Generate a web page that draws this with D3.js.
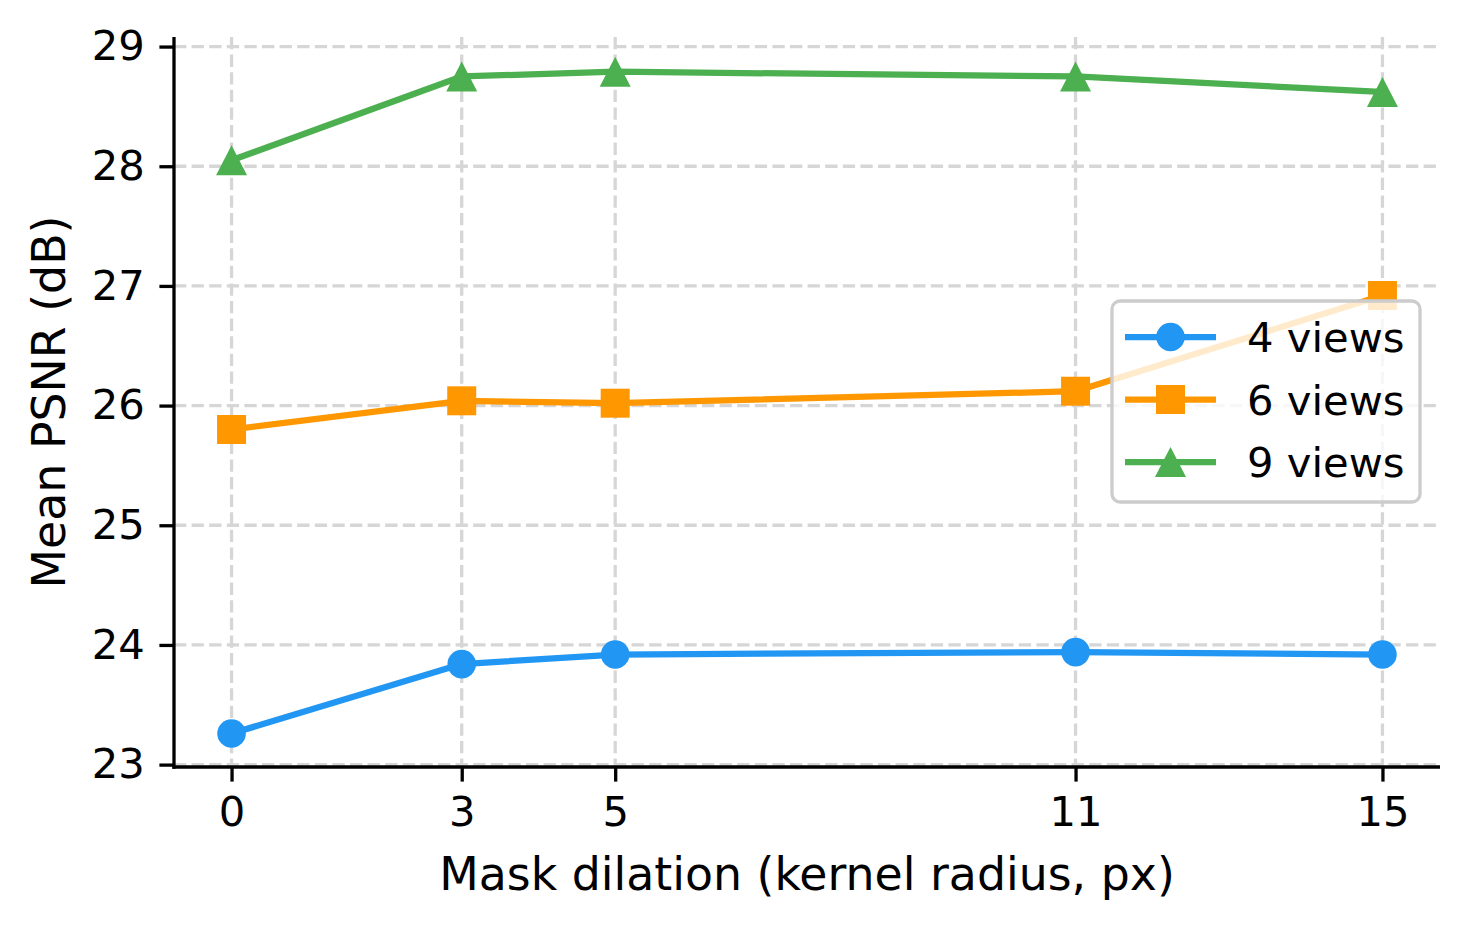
<!DOCTYPE html>
<html>
<head>
<meta charset="utf-8">
<script src="https://cdn.jsdelivr.net/npm/d3@7"></script>
<style>
  html, body { margin: 0; padding: 0; background: #fff; }
  text { font-family: "DejaVu Sans", sans-serif; fill: #000; }
</style>
</head>
<body>
<div id="mainDiv"></div>
<script>
'use strict';

// data
var radii = [0, 3, 5, 11, 15];
var views4 = [23.26, 23.84, 23.92, 23.94, 23.92];
var views6 = [25.80, 26.04, 26.02, 26.12, 26.92];
var views9 = [28.05, 28.75, 28.79, 28.75, 28.62];
var seriesNames = ['4 views', '6 views', '9 views'];
var seriesColors = ['#2196F3', '#FF9800', '#4CAF50'];
var seriesMarkers = ['circle', 'square', 'triangle'];
var yTicks = [23, 24, 25, 26, 27, 28, 29];

var myApp = {};

myApp.W = 1470;
myApp.H = 930;
myApp.box = {left: 174, right: 1440, top: 37, bottom: 767};

myApp.markerPath = function(kind)
{
    if (kind === 'circle') {
        return d3.symbol(d3.symbolCircle, Math.PI * 14.3 * 14.3)();
    }
    if (kind === 'square') {
        return d3.symbol(d3.symbolSquare, 29 * 29)();
    }
    // matplotlib style '^' : apex up, base down, centered on bbox
    var p = d3.path();
    p.moveTo(0, -15);
    p.lineTo(15.5, 15);
    p.lineTo(-15.5, 15);
    p.closePath();
    return p.toString();
}

myApp.run = function()
{
    var b = myApp.box;
    var svg = d3.select('#mainDiv').append('svg')
        .attr('width', myApp.W)
        .attr('height', myApp.H);

    var x = d3.scaleLinear().domain([-0.75, 15.75]).range([b.left, b.right]);
    var y = d3.scaleLinear().domain([22.98, 29.08]).range([b.bottom, b.top]);

    // grid
    var grid = svg.append('g')
        .attr('stroke', '#d6d6d6')
        .attr('stroke-width', 3.3)
        .attr('stroke-dasharray', '12.3,5.3');
    grid.selectAll('.gx').data(radii).enter().append('line')
        .attr('x1', function(d){ return x(d); })
        .attr('x2', function(d){ return x(d); })
        .attr('y1', b.top).attr('y2', b.bottom);
    grid.selectAll('.gy').data(yTicks).enter().append('line')
        .attr('y1', function(d){ return y(d); })
        .attr('y2', function(d){ return y(d); })
        .attr('x1', b.left).attr('x2', b.right);

    // axes
    var xAxis = d3.axisBottom(x).tickValues(radii).tickSize(14.6).tickPadding(14.6)
        .tickFormat(d3.format('d'));
    var yAxis = d3.axisLeft(y).tickValues(yTicks).tickSize(14.6).tickPadding(14.6)
        .tickFormat(d3.format('d'));

    var gx = svg.append('g').attr('transform', 'translate(0,' + b.bottom + ')').call(xAxis);
    var gy = svg.append('g').attr('transform', 'translate(' + b.left + ',0)').call(yAxis);

    [gx, gy].forEach(function(g){
        g.select('.domain').remove();
        g.selectAll('.tick line').attr('stroke', '#000').attr('stroke-width', 3.3);
        g.selectAll('.tick text')
            .attr('font-size', 41.7)
            .attr('font-family', '"DejaVu Sans", sans-serif')
            .attr('fill', '#000');
    });
    gx.selectAll('.tick text').attr('dy', '0.71em');

    // spines
    svg.append('line')
        .attr('x1', b.left).attr('x2', b.left)
        .attr('y1', b.top).attr('y2', b.bottom + 1.65)
        .attr('stroke', '#000').attr('stroke-width', 3.3);
    svg.append('line')
        .attr('x1', b.left - 1.65).attr('x2', b.right)
        .attr('y1', b.bottom).attr('y2', b.bottom)
        .attr('stroke', '#000').attr('stroke-width', 3.3);

    // series
    var allSeries = [views4, views6, views9];
    var line = d3.line()
        .x(function(d, i){ return x(radii[i]); })
        .y(function(d){ return y(d); });

    allSeries.forEach(function(vals, k){
        var g = svg.append('g');
        g.append('path')
            .attr('d', line(vals))
            .attr('fill', 'none')
            .attr('stroke', seriesColors[k])
            .attr('stroke-width', 6.25)
            .attr('stroke-linejoin', 'round')
            .attr('stroke-linecap', 'square');
        g.selectAll('path.m').data(vals).enter().append('path')
            .attr('class', 'm')
            .attr('d', myApp.markerPath(seriesMarkers[k]))
            .attr('transform', function(d, i){ return 'translate(' + x(radii[i]) + ',' + y(d) + ')'; })
            .attr('fill', seriesColors[k]);
    });

    // axis labels
    svg.append('text')
        .attr('x', (b.left + b.right) / 2)
        .attr('y', 890)
        .attr('text-anchor', 'middle')
        .attr('font-size', 45.8)
        .text('Mask dilation (kernel radius, px)');
    svg.append('text')
        .attr('transform', 'translate(65,' + ((b.top + b.bottom) / 2) + ') rotate(-90)')
        .attr('text-anchor', 'middle')
        .attr('font-size', 45.8)
        .text('Mean PSNR (dB)');

    // legend
    var lg = svg.append('g');
    lg.append('rect')
        .attr('x', 1112).attr('y', 301)
        .attr('width', 308).attr('height', 201)
        .attr('rx', 8).attr('ry', 8)
        .attr('fill', '#fff').attr('fill-opacity', 0.8)
        .attr('stroke', '#cccccc').attr('stroke-width', 3.3);

    var rows = lg.selectAll('g.row').data(seriesNames).enter().append('g')
        .attr('class', 'row')
        .attr('transform', function(d, i){ return 'translate(0,' + (337 + i * 62.5) + ')'; });
    rows.append('line')
        .attr('x1', 1125).attr('x2', 1216)
        .attr('y1', 0).attr('y2', 0)
        .attr('stroke', function(d, i){ return seriesColors[i]; })
        .attr('stroke-width', 6.25);
    rows.append('path')
        .attr('d', function(d, i){ return myApp.markerPath(seriesMarkers[i]); })
        .attr('transform', 'translate(1170.5,0)')
        .attr('fill', function(d, i){ return seriesColors[i]; });
    rows.append('text')
        .attr('x', 1247)
        .attr('y', 0)
        .attr('dy', '0.36em')
        .attr('font-size', 41.7)
        .text(function(d){ return d; });
}

window.myApp = myApp;
myApp.run();
</script>
</body>
</html>
